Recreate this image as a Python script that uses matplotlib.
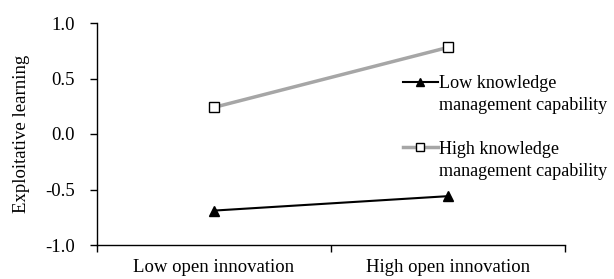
import matplotlib
matplotlib.use("Agg")
import matplotlib.pyplot as plt
from matplotlib.ticker import FixedLocator

categories = ["Low open innovation", "High open innovation"]
low_km = [-0.69, -0.56]
high_km = [0.24, 0.78]
series_first = ["Low knowledge", "High knowledge"]
series_second = ["management capability", "management capability"]
yticks = [-1.0, -0.5, 0.0, 0.5, 1.0]

FS = 13.5
LFS = 13.1
plt.rcParams['font.family'] = ['Liberation Serif', 'DejaVu Serif']
fig = plt.figure(figsize=(6.14, 2.79), dpi=100)
ax = fig.add_axes([97/614, 1-245/279, (565-97)/614, (245-23)/279])

xpos = [0.5, 1.5]
ax.plot(xpos, low_km, color='black', lw=1.5, marker='^', ms=7.5, mfc='black', mec='black',
        label=series_first[0], zorder=3)
ax.plot(xpos, high_km, color='#a6a6a6', lw=2.5, marker='s', ms=7, mfc='white', mec='black',
        mew=1.0, label=series_first[1], zorder=3)

ax.set_xlim(0, 2)
ax.set_ylim(-1.0, 1.0)
ax.set_yticks(yticks)
ax.set_yticklabels([f"{v:.1f}" for v in yticks])
ax.xaxis.set_major_locator(FixedLocator([0, 1, 2]))
ax.set_xticklabels([])
ax.xaxis.set_minor_locator(FixedLocator(xpos))
ax.set_xticklabels(categories, minor=True)
ax.tick_params(axis='x', which='minor', length=0, labelsize=FS, pad=10)
ax.tick_params(axis='x', which='major', length=5, direction='out', width=1)
ax.tick_params(axis='y', length=5, direction='out', width=1, labelsize=FS, pad=11)
for s in ['top', 'right']:
    ax.spines[s].set_visible(False)
for s in ['left', 'bottom']:
    ax.spines[s].set_linewidth(1.0)
ax.set_ylabel("Exploitative learning", fontsize=FS, labelpad=11)

leg = fig.legend(loc='upper left', bbox_to_anchor=(403/614, 1-75/279), frameon=False,
                 fontsize=LFS, handlelength=1.9, handletextpad=0.1, labelspacing=2.68,
                 borderpad=0, borderaxespad=0, markerscale=0.85)

fig.canvas.draw()
inv = fig.transFigure.inverted()
for t, second in zip(leg.get_texts(), series_second):
    bb = t.get_window_extent()
    x0, y0 = inv.transform((bb.x0, bb.y0 - 22))
    fig.text(x0, y0, second, fontsize=LFS, ha='left', va='bottom')

fig.savefig("out.png", dpi=100)
